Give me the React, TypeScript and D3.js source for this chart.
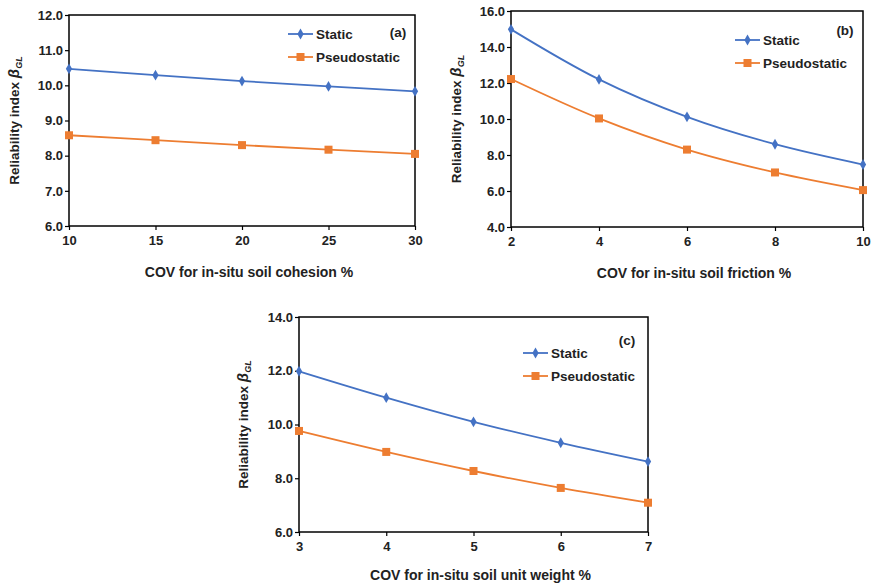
import React, { useEffect, useRef } from "react";
import * as d3 from "d3";

// panel (a): cohesion
const covCohesion = [10, 15, 20, 25, 30];
const staticCohesion = [10.47, 10.29, 10.12, 9.97, 9.83];
const pseudoCohesion = [8.58, 8.44, 8.3, 8.17, 8.05];

// panel (b): friction
const covFriction = [2, 4, 6, 8, 10];
const staticFriction = [14.98, 12.2, 10.12, 8.6, 7.47];
const pseudoFriction = [12.22, 10.03, 8.3, 7.03, 6.05];

// panel (c): unit weight
const covUnitWeight = [3, 4, 5, 6, 7];
const staticUnitWeight = [11.98, 11.0, 10.1, 9.32, 8.62];
const pseudoUnitWeight = [9.76, 8.98, 8.27, 7.64, 7.09];

const seriesNames = ["Static", "Pseudostatic"];
const BLUE = "#4472C4";
const ORANGE = "#ED7D31";
const FONT = "Liberation Sans, Arial, sans-serif";

const panels = [
  {
    tag: "(a)", xs: covCohesion, s: staticCohesion, p: pseudoCohesion,
    box: [69, 15, 415, 226], xDom: [10, 30], xTicks: [10, 15, 20, 25, 30],
    yDom: [6, 12], yTicks: d3.range(6, 12.01, 1),
    xTitle: "COV for in-situ soil cohesion %",
    legend: [288, 34], tagPos: [398, 32], xTitleY: 272, yTitleX: 14,
  },
  {
    tag: "(b)", xs: covFriction, s: staticFriction, p: pseudoFriction,
    box: [511, 11, 863, 227], xDom: [2, 10], xTicks: [2, 4, 6, 8, 10],
    yDom: [4, 16], yTicks: d3.range(4, 16.01, 2),
    xTitle: "COV for in-situ soil friction %",
    legend: [735, 40], tagPos: [845, 30], xTitleY: 273, yTitleX: 456,
  },
  {
    tag: "(c)", xs: covUnitWeight, s: staticUnitWeight, p: pseudoUnitWeight,
    box: [299, 317, 648, 532], xDom: [3, 7], xTicks: [3, 4, 5, 6, 7],
    yDom: [6, 14], yTicks: d3.range(6, 14.01, 2),
    xTitle: "COV for in-situ soil unit weight %",
    legend: [523, 353], tagPos: [627, 340], xTitleY: 575, yTitleX: 243,
  },
];

function drawPanel(svg: any, cfg: any) {
  const [x0, y0, x1, y1] = cfg.box;
  const x = d3.scaleLinear().domain(cfg.xDom).range([x0, x1]);
  const y = d3.scaleLinear().domain(cfg.yDom).range([y1, y0]);
  const g = svg.append("g");

  // frame
  g.append("rect")
    .attr("x", x0).attr("y", y0)
    .attr("width", x1 - x0).attr("height", y1 - y0)
    .attr("fill", "white").attr("stroke", "#000").attr("stroke-width", 1.5);

  const xAxis = g.append("g").attr("transform", `translate(0,${y1})`)
    .call(d3.axisBottom(x).tickValues(cfg.xTicks).tickSize(4).tickFormat(d3.format("d")));
  const yAxis = g.append("g").attr("transform", `translate(${x0},0)`)
    .call(d3.axisLeft(y).tickValues(cfg.yTicks).tickSize(4).tickFormat(d3.format(".1f")));
  [xAxis, yAxis].forEach((a) => {
    a.select(".domain").remove();
    a.selectAll("line").attr("stroke", "#000").attr("stroke-width", 1.2);
    a.selectAll("text")
      .attr("font-family", FONT).attr("font-size", 13)
      .attr("font-weight", "bold").attr("fill", "#222");
  });
  xAxis.selectAll("text").attr("dy", "0.71em").attr("y", 10);
  yAxis.selectAll("text").attr("x", -6);

  const line = d3.line<number>()
    .x((_, i) => x(cfg.xs[i]))
    .y((d) => y(d))
    .curve(d3.curveCatmullRom.alpha(0.5));

  const diamond = d3.symbol().type(d3.symbolDiamond).size(34);

  // pseudostatic
  g.append("path").attr("d", line(cfg.p)).attr("fill", "none")
    .attr("stroke", ORANGE).attr("stroke-width", 1.8);
  g.selectAll(".sq").data(cfg.p).enter().append("rect")
    .attr("x", (_: number, i: number) => x(cfg.xs[i]) - 4)
    .attr("y", (d: number) => y(d) - 4)
    .attr("width", 8).attr("height", 8).attr("fill", ORANGE);

  // static
  g.append("path").attr("d", line(cfg.s)).attr("fill", "none")
    .attr("stroke", BLUE).attr("stroke-width", 1.8);
  g.selectAll(".dm").data(cfg.s).enter().append("path")
    .attr("d", diamond)
    .attr("transform", (d: number, i: number) => `translate(${x(cfg.xs[i])},${y(d)})`)
    .attr("fill", BLUE);

  // legend
  const [lx, ly] = cfg.legend;
  seriesNames.forEach((name, i) => {
    const yy = ly + i * 23;
    const c = i === 0 ? BLUE : ORANGE;
    g.append("line").attr("x1", lx).attr("x2", lx + 25)
      .attr("y1", yy).attr("y2", yy).attr("stroke", c).attr("stroke-width", 1.8);
    if (i === 0) {
      g.append("path").attr("d", diamond)
        .attr("transform", `translate(${lx + 12.5},${yy})`).attr("fill", c);
    } else {
      g.append("rect").attr("x", lx + 8.5).attr("y", yy - 4)
        .attr("width", 8).attr("height", 8).attr("fill", c);
    }
    g.append("text").attr("x", lx + 28).attr("y", yy).attr("dy", "0.35em")
      .attr("font-family", FONT).attr("font-size", 13.5).attr("font-weight", "bold")
      .attr("fill", "#222").text(name);
  });

  g.append("text").attr("x", cfg.tagPos[0]).attr("y", cfg.tagPos[1])
    .attr("text-anchor", "middle").attr("dy", "0.35em")
    .attr("font-family", FONT).attr("font-size", 13.5).attr("font-weight", "bold")
    .attr("fill", "#222").text(cfg.tag);

  // axis titles
  g.append("text").attr("x", (x0 + x1) / 2 + 7).attr("y", cfg.xTitleY)
    .attr("text-anchor", "middle").attr("dy", "0.35em")
    .attr("font-family", FONT).attr("font-size", 14).attr("font-weight", "bold")
    .attr("fill", "#222").text(cfg.xTitle);

  const yt = g.append("text")
    .attr("transform", `translate(${cfg.yTitleX},${(y0 + y1) / 2}) rotate(-90)`)
    .attr("text-anchor", "middle").attr("dy", "0.35em")
    .attr("font-family", FONT).attr("font-size", 13.5).attr("font-weight", "bold")
    .attr("fill", "#222");
  yt.append("tspan").text("Reliability index ");
  yt.append("tspan").attr("font-style", "italic").attr("font-size", 15).text("β");
  yt.append("tspan").attr("font-style", "italic").attr("font-size", 9)
    .attr("dy", "0.35em").text("GL");
}

export default function App() {
  const ref = useRef<SVGSVGElement>(null);
  useEffect(() => {
    const svg = d3.select(ref.current);
    svg.selectAll("*").remove();
    panels.forEach((p) => drawPanel(svg, p));
  }, []);
  return (
    <svg
      ref={ref}
      width={872}
      height={583}
      style={{ position: "absolute", left: 0, top: 0, background: "white" }}
    />
  );
}
